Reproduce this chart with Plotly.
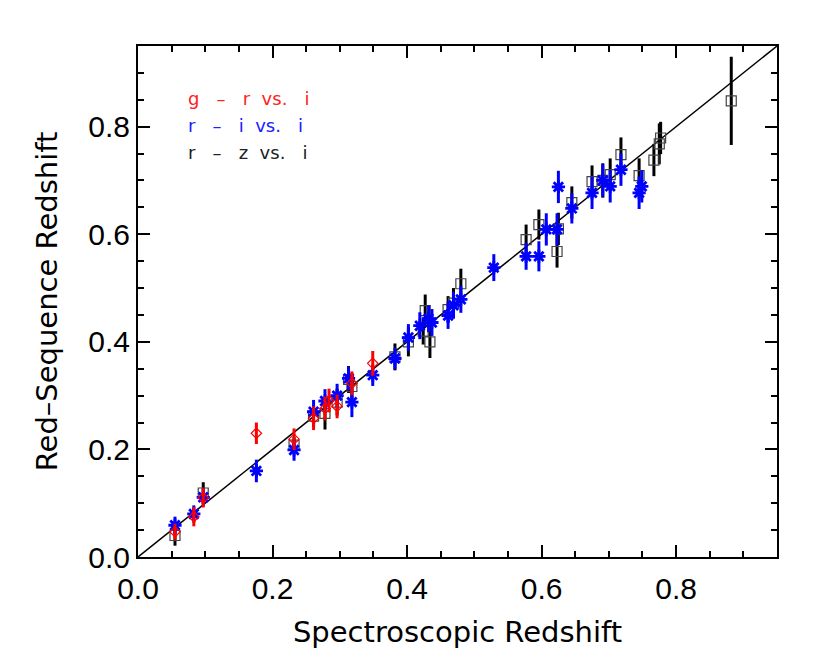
import plotly.graph_objects as go

# g - r vs. i  (red)
gr_spec = [0.055, 0.083, 0.097, 0.176, 0.232, 0.261, 0.278, 0.284, 0.296, 0.318, 0.349]
gr_red = [0.047, 0.075, 0.110, 0.230, 0.219, 0.258, 0.276, 0.291, 0.280, 0.323, 0.360]
gr_err = [0.015, 0.018, 0.018, 0.020, 0.020, 0.022, 0.022, 0.022, 0.022, 0.022, 0.023]

# r - i vs. i  (blue)
ri_spec = [0.055, 0.083, 0.097, 0.176, 0.232, 0.261, 0.278, 0.296, 0.313, 0.318,
           0.349, 0.382, 0.402, 0.419, 0.432, 0.437, 0.461, 0.469, 0.480, 0.529,
           0.577, 0.596, 0.607, 0.623, 0.625, 0.645, 0.675, 0.691, 0.702, 0.718,
           0.745, 0.749]
ri_red = [0.059, 0.080, 0.111, 0.160, 0.199, 0.270, 0.290, 0.300, 0.332, 0.288,
          0.338, 0.369, 0.408, 0.430, 0.443, 0.436, 0.449, 0.468, 0.479, 0.538,
          0.559, 0.559, 0.609, 0.609, 0.688, 0.648, 0.677, 0.700, 0.689, 0.720,
          0.677, 0.689]
ri_err = [0.016, 0.016, 0.016, 0.021, 0.020, 0.022, 0.022, 0.022, 0.022, 0.028,
          0.020, 0.020, 0.025, 0.025, 0.025, 0.025, 0.025, 0.025, 0.025, 0.025,
          0.025, 0.028, 0.030, 0.030, 0.030, 0.028, 0.030, 0.030, 0.030, 0.030,
          0.030, 0.030]

# r - z vs. i  (black)
rz_spec = [0.055, 0.097, 0.232, 0.261, 0.278, 0.296, 0.313, 0.318, 0.382, 0.402,
           0.424, 0.427, 0.434, 0.461, 0.469, 0.480, 0.577, 0.596, 0.623, 0.625,
           0.645, 0.675, 0.691, 0.702, 0.718, 0.745, 0.767, 0.775, 0.777, 0.882]
rz_red = [0.040, 0.119, 0.208, 0.262, 0.267, 0.288, 0.330, 0.317, 0.372, 0.400,
          0.420, 0.458, 0.400, 0.460, 0.472, 0.508, 0.590, 0.618, 0.568, 0.610,
          0.659, 0.698, 0.700, 0.711, 0.748, 0.709, 0.738, 0.768, 0.779, 0.848]
rz_err = [0.019, 0.020, 0.015, 0.020, 0.030, 0.025, 0.025, 0.025, 0.025, 0.027,
          0.025, 0.030, 0.030, 0.025, 0.028, 0.028, 0.028, 0.028, 0.030, 0.030,
          0.030, 0.030, 0.032, 0.030, 0.032, 0.032, 0.030, 0.038, 0.030, 0.082]

one_to_one = [0.0, 0.95]

legend_rows = ["g\u00a0\u00a0\u00a0\u2013\u00a0\u00a0\u00a0r\u00a0\u00a0vs.\u00a0\u00a0\u00a0i",
               "r\u00a0\u00a0\u00a0\u2013\u00a0\u00a0\u00a0i\u00a0\u00a0vs.\u00a0\u00a0\u00a0i",
               "r\u00a0\u00a0\u00a0\u2013\u00a0\u00a0\u00a0z\u00a0\u00a0vs.\u00a0\u00a0\u00a0i"]
legend_colors = ["#ff2020", "#2020ff", "#202020"]

fig = go.Figure()

fig.add_trace(go.Scatter(x=one_to_one, y=one_to_one, mode="lines",
                         line=dict(color="black", width=1.5), hoverinfo="skip"))

fig.add_trace(go.Scatter(
    x=rz_spec, y=rz_red, mode="markers", name="r - z vs. i",
    marker=dict(symbol="square-open", size=10, color="#444444", line=dict(width=1.2)),
    error_y=dict(type="data", array=rz_err, thickness=3, width=0, color="black")))

fig.add_trace(go.Scatter(
    x=ri_spec, y=ri_red, mode="markers", name="r - i vs. i",
    marker=dict(symbol="asterisk-open", size=11, color="#0000ff", line=dict(width=2.8, color="#0000ff")),
    error_y=dict(type="data", array=ri_err, thickness=3, width=0, color="#0000ff")))

fig.add_trace(go.Scatter(
    x=gr_spec, y=gr_red, mode="markers", name="g - r vs. i",
    marker=dict(symbol="diamond-open", size=8, color="#ff0000", line=dict(width=1.2)),
    error_y=dict(type="data", array=gr_err, thickness=3, width=0, color="#ff0000")))

for i, (txt, col) in enumerate(zip(legend_rows, legend_colors)):
    fig.add_annotation(x=0.075, y=0.897 - i * 0.053, xref="paper", yref="paper",
                       text=txt, showarrow=False, xanchor="left", yanchor="middle",
                       font=dict(family="DejaVu Sans", size=18, color=col))

axis_common = dict(
    range=[0, 0.95], dtick=0.2, tick0=0, tickformat=".1f",
    ticks="inside", ticklen=12, tickwidth=1.5, tickcolor="black",
    minor=dict(dtick=0.05, ticks="inside", ticklen=6, tickwidth=1.5, tickcolor="black"),
    showline=True, linecolor="black", linewidth=2, mirror="allticks",
    showgrid=False, zeroline=False,
    tickfont=dict(family="Liberation Sans", size=30, color="black"),
)

fig.update_xaxes(**axis_common, ticklabelstandoff=4,
                 title=dict(text="Spectroscopic Redshift", standoff=18,
                            font=dict(family="DejaVu Sans", size=29, color="black")))
fig.update_yaxes(**axis_common,
                 title=dict(text="Red\u2013Sequence Redshift", standoff=22,
                            font=dict(family="DejaVu Sans", size=29, color="black")))

fig.update_layout(
    width=830, height=664,
    margin=dict(l=130, r=61, t=38, b=115),
    paper_bgcolor="white", plot_bgcolor="white",
    showlegend=False,
)

fig.write_html("out.html")
